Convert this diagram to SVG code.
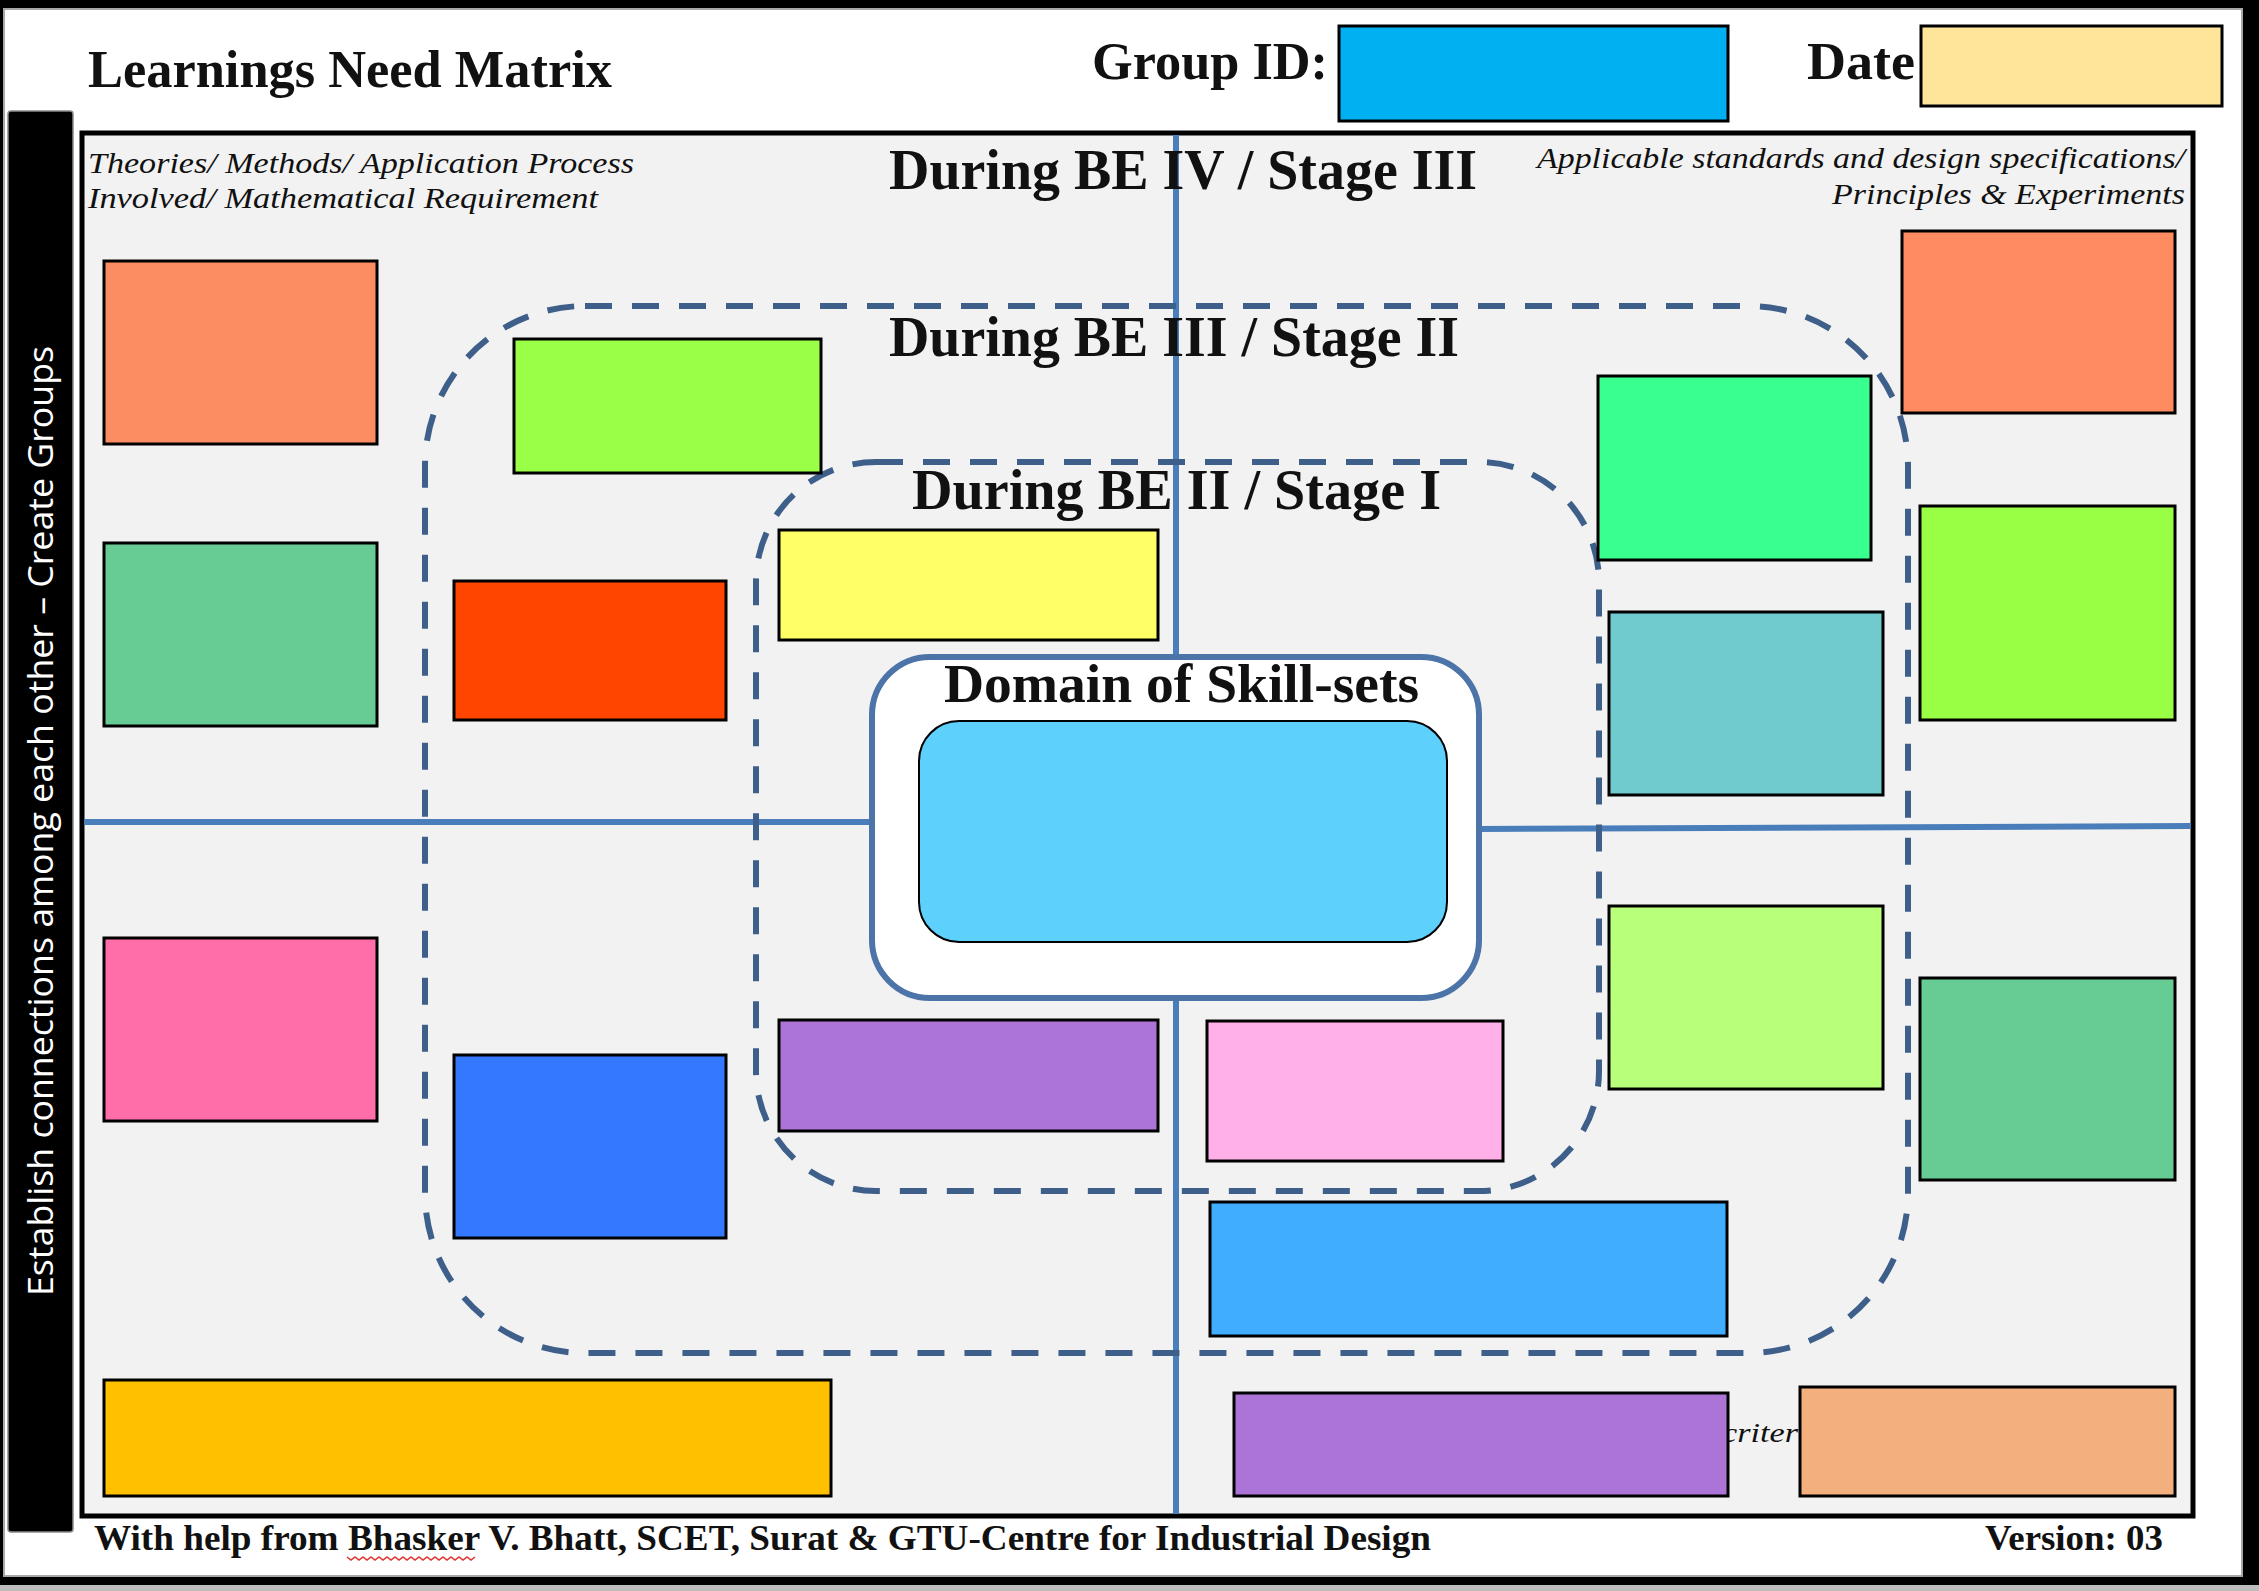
<svg xmlns="http://www.w3.org/2000/svg" width="2259" height="1591" viewBox="0 0 2259 1591">
<defs>
<style>
.box{stroke:#000;stroke-width:3}
.axis{stroke:#4A7EBB;stroke-width:6;fill:none}
.dash{fill:none;stroke:#3E5F8A;stroke-width:6;stroke-dasharray:27 20}
.hdr{font-family:"Liberation Serif",serif;font-weight:bold;fill:#111}
.it{font-family:"Liberation Serif",serif;font-style:italic;fill:#111}
.side{font-family:"Open Sans","Liberation Sans",sans-serif;fill:#fff}
</style>
</defs>
<rect x="0" y="0" width="2259" height="1591" fill="#000"/>
<rect x="4" y="9" width="2238" height="1567" fill="#fff" stroke="#A8A8A8" stroke-width="2"/>
<rect x="0" y="1585" width="2259" height="6" fill="#BDBDBD"/>

<g id="title">
<text class="hdr" x="88" y="87" font-size="52" textLength="524" lengthAdjust="spacingAndGlyphs">Learnings Need Matrix</text>
</g>
<g id="group-id">
<text class="hdr" x="1092" y="79" font-size="52" textLength="236" lengthAdjust="spacingAndGlyphs">Group ID:</text>
<rect class="box" x="1339" y="26" width="389" height="95" fill="#00B0F0"/>
</g>
<g id="date">
<text class="hdr" x="1807" y="79" font-size="52" textLength="108" lengthAdjust="spacingAndGlyphs">Date</text>
<rect class="box" x="1921" y="26" width="301" height="80" fill="#FFE599"/>
</g>

<g id="side-bar">
<rect x="8" y="111" width="65" height="1421" rx="3" fill="#000" stroke="#8A8A8A" stroke-width="1.5"/>
<text class="side" transform="translate(53,821) rotate(-90)" text-anchor="middle" font-size="34" textLength="950" lengthAdjust="spacingAndGlyphs">Establish connections among each other – Create Groups</text>
</g>

<g id="matrix-frame">
<rect x="82" y="133" width="2111" height="1383" fill="#F2F2F2" stroke="#000" stroke-width="5"/>
</g>

<g id="connectors">
<line class="axis" x1="1176" y1="135" x2="1176" y2="660"/>
<line class="axis" x1="1176" y1="995" x2="1176" y2="1514"/>
<line class="axis" x1="84" y1="822" x2="874" y2="822"/>
<line class="axis" x1="1478" y1="829" x2="2191" y2="826"/>
</g>

<g id="stage-2-ring">
<rect class="dash" x="425" y="306" width="1483" height="1047" rx="160" ry="160"/>
</g>
<g id="stage-1-ring">
<rect class="dash" x="756" y="462" width="843" height="729" rx="120" ry="120"/>
</g>

<g id="label-left">
<text class="it" x="88" y="173" font-size="30" textLength="546" lengthAdjust="spacingAndGlyphs">Theories/ Methods/ Application Process</text>
<text class="it" x="88" y="208" font-size="30" textLength="510" lengthAdjust="spacingAndGlyphs">Involved/ Mathematical Requirement</text>
</g>
<g id="label-right">
<text class="it" x="1537" y="168" font-size="30" textLength="648" lengthAdjust="spacingAndGlyphs">Applicable standards and design specifications/</text>
<text class="it" x="1832" y="204" font-size="30" textLength="353" lengthAdjust="spacingAndGlyphs">Principles &amp; Experiments</text>
</g>
<g id="label-criteria">
<text class="it" x="1722" y="1442" font-size="28" textLength="76" lengthAdjust="spacingAndGlyphs">criter</text>
</g>

<g id="stage-3-title"><text class="hdr" x="889" y="189" font-size="56" textLength="588" lengthAdjust="spacingAndGlyphs">During BE IV / Stage III</text></g>
<g id="stage-2-title"><text class="hdr" x="889" y="356" font-size="56" textLength="570" lengthAdjust="spacingAndGlyphs">During BE III / Stage II</text></g>
<g id="stage-1-title"><text class="hdr" x="912" y="509" font-size="56" textLength="529" lengthAdjust="spacingAndGlyphs">During BE II / Stage I</text></g>

<g id="domain">
<rect x="872" y="657" width="607" height="341" rx="58" ry="58" fill="#fff" stroke="#4D74A8" stroke-width="6"/>
<text class="hdr" x="944" y="702" font-size="55" textLength="475" lengthAdjust="spacingAndGlyphs">Domain of Skill-sets</text>
<rect x="919" y="721" width="528" height="221" rx="40" ry="40" fill="#5DD0FC" stroke="#000" stroke-width="2"/>
</g>

<g id="note-1"><rect class="box" x="104" y="261" width="273" height="183" fill="#FC8D62"/></g>
<g id="note-2"><rect class="box" x="514" y="339" width="307" height="134" fill="#99FF47"/></g>
<g id="note-3"><rect class="box" x="104" y="543" width="273" height="183" fill="#66CC94"/></g>
<g id="note-4"><rect class="box" x="454" y="581" width="272" height="139" fill="#FF4500"/></g>
<g id="note-5"><rect class="box" x="779" y="530" width="379" height="110" fill="#FFFF66"/></g>
<g id="note-6"><rect class="box" x="1598" y="376" width="273" height="184" fill="#38FF8E"/></g>
<g id="note-7"><rect class="box" x="1902" y="231" width="273" height="182" fill="#FF8C60"/></g>
<g id="note-8"><rect class="box" x="1920" y="506" width="255" height="214" fill="#99FF44"/></g>
<g id="note-9"><rect class="box" x="1609" y="612" width="274" height="183" fill="#70CBCF"/></g>
<g id="note-10"><rect class="box" x="104" y="938" width="273" height="183" fill="#FF6EA8"/></g>
<g id="note-11"><rect class="box" x="454" y="1055" width="272" height="183" fill="#3478FF"/></g>
<g id="note-12"><rect class="box" x="779" y="1020" width="379" height="111" fill="#AB74D6"/></g>
<g id="note-13"><rect class="box" x="1207" y="1021" width="296" height="140" fill="#FFB0E8"/></g>
<g id="note-14"><rect class="box" x="1609" y="906" width="274" height="183" fill="#B8FF7A"/></g>
<g id="note-15"><rect class="box" x="1920" y="978" width="255" height="202" fill="#66CC94"/></g>
<g id="note-16"><rect class="box" x="1210" y="1202" width="517" height="134" fill="#40ADFF"/></g>
<g id="note-17"><rect class="box" x="104" y="1380" width="727" height="116" fill="#FFC000"/></g>
<g id="note-18"><rect class="box" x="1234" y="1393" width="494" height="103" fill="#AB74D6"/></g>
<g id="note-19"><rect class="box" x="1800" y="1387" width="375" height="109" fill="#F4AF7E"/></g>

<g id="footer">
<text class="hdr" x="94" y="1550" font-size="35" textLength="1337" lengthAdjust="spacingAndGlyphs">With help from Bhasker V. Bhatt, SCET, Surat &amp; GTU-Centre for Industrial Design</text>
<path d="M347,1557 l4,3 l4,-3 l4,3 l4,-3 l4,3 l4,-3 l4,3 l4,-3 l4,3 l4,-3 l4,3 l4,-3 l4,3 l4,-3 l4,3 l4,-3 l4,3 l4,-3 l4,3 l4,-3 l4,3 l4,-3 l4,3 l4,-3 l4,3 l4,-3 l4,3 l4,-3 l4,3 l4,-3 l4,3 l4,-3" fill="none" stroke="#E03030" stroke-width="1.5"/>
<text class="hdr" x="1985" y="1550" font-size="35" textLength="178" lengthAdjust="spacingAndGlyphs">Version: 03</text>
</g>
</svg>
